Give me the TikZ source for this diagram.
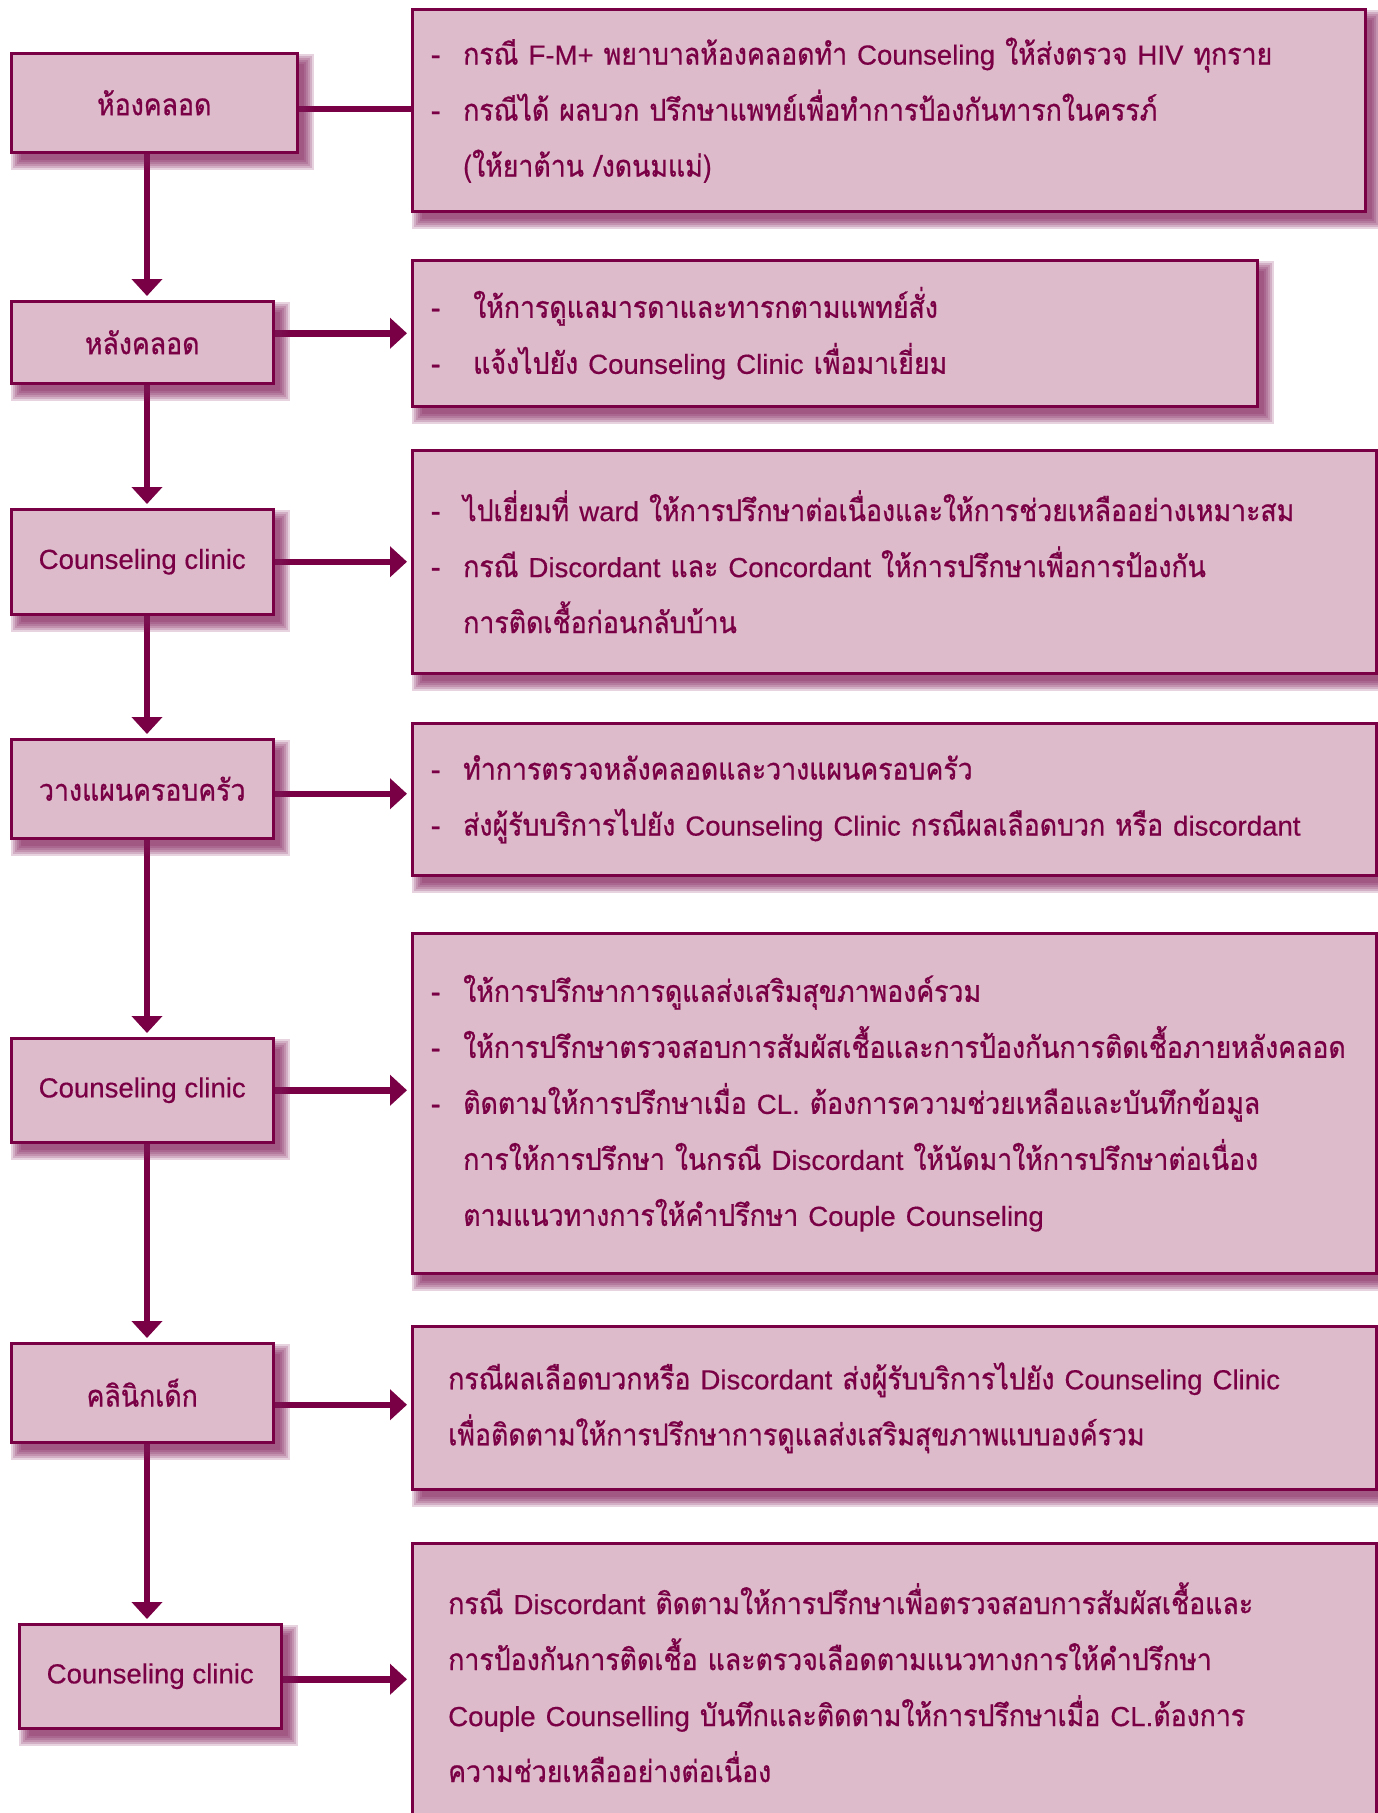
\documentclass[tikz,border=0pt]{standalone}
\usepackage{fontspec}
\setmainfont{Loma}[Script=Thai,FakeStretch=0.89,FakeBold=0.8]
\newfontfamily\latfont{Liberation Sans}[FakeBold=0.4]
\usetikzlibrary{arrows.meta}

\definecolor{plum}{RGB}{122,0,69}
\definecolor{petal}{RGB}{221,187,203}
\definecolor{dusk}{RGB}{125,25,85}

\pgfdeclarelayer{links}
\pgfdeclarelayer{shades}
\pgfsetlayers{links,shades,main}

% Latin words are set in a narrower grotesque
\newcommand\lat[1]{{\latfont\fontsize{27.6}{56}\selectfont #1}}
% bullet dash followed by a fixed gap, and the matching indent for continued lines
\newcommand\bul[1][32pt]{\makebox[#1][l]{-}}
\newcommand\cont{\hspace*{32pt}}

% soft drop shadow behind a box, built from stacked translucent rectangles
\newcommand\softshadow[1]{%
  \begin{pgfonlayer}{shades}
    \foreach \e in {7,5,3,1,-1,-3}{%
      \fill[dusk,opacity=0.19]
        ([shift={({8pt-(\e pt)},{-9pt-(\e pt)})}]#1.south west) rectangle
        ([shift={({8pt+(\e pt)},{-9pt+(\e pt)})}]#1.north east);
    }
  \end{pgfonlayer}}

\begin{document}
\begin{tikzpicture}[x=1pt,y=-1pt,
  txt/.style={text=plum,font=\fontsize{30}{56}\selectfont},
  lbox/.style={txt,draw=plum,line width=2.5pt,fill=petal,anchor=north west,inner sep=0pt},
  rbox/.style={lbox,align=left,inner xsep=19pt,inner ysep=0pt},
  link/.style={draw=plum,line width=6.5pt},
  flow/.style={link,-{Triangle[length=17pt,width=30pt]}},
]
\useasboundingbox (0,0) rectangle (1378,1813);

% stages on the left
\node[lbox,minimum width=286pt,minimum height=99pt] (L1) at (10,52) {ห้องคลอด};
\node[lbox,minimum width=262pt,minimum height=82pt] (L2) at (10,300) {หลังคลอด};
\node[lbox,minimum width=262pt,minimum height=105pt] (L3) at (10,508) {\lat{Counseling clinic}};
\node[lbox,minimum width=262pt,minimum height=99pt] (L4) at (10,738) {วางแผนครอบครัว};
\node[lbox,minimum width=262pt,minimum height=104pt] (L5) at (10,1037) {\lat{Counseling clinic}};
\node[lbox,minimum width=262pt,minimum height=99pt] (L6) at (10,1342) {คลินิกเด็ก};
\node[lbox,minimum width=262pt,minimum height=104pt] (L7) at (18,1623) {\lat{Counseling clinic}};

% actions on the right
\node[rbox,minimum width=953pt,minimum height=202pt,text width=915pt] (R1) at (411,8) {%
\mbox{\bul กรณี \lat{F-M+} พยาบาลห้องคลอดทำ \lat{Counseling} ให้ส่งตรวจ \lat{HIV} ทุกราย}\\
\mbox{\bul กรณีได้ ผลบวก ปรึกษาแพทย์เพื่อทำการป้องกันทารกในครรภ์}\\
\mbox{\cont(ให้ยาต้าน /งดนมแม่)}};

\node[rbox,minimum width=845pt,minimum height=146pt,text width=807pt] (R2) at (411,259) {%
\mbox{\bul[42pt]ให้การดูแลมารดาและทารกตามแพทย์สั่ง}\\
\mbox{\bul[42pt]แจ้งไปยัง \lat{Counseling Clinic} เพื่อมาเยี่ยม}};

\node[rbox,minimum width=964pt,minimum height=223pt,text width=926pt] (R3) at (411,449) {%
\mbox{\bul ไปเยี่ยมที่ \lat{ward} ให้การปรึกษาต่อเนื่องและให้การช่วยเหลืออย่างเหมาะสม}\\
\mbox{\bul กรณี \lat{Discordant} และ \lat{Concordant} ให้การปรึกษาเพื่อการป้องกัน}\\
\mbox{\cont การติดเชื้อก่อนกลับบ้าน}};

\node[rbox,minimum width=964pt,minimum height=152pt,text width=926pt] (R4) at (411,722) {%
\mbox{\bul ทำการตรวจหลังคลอดและวางแผนครอบครัว}\\
\mbox{\bul ส่งผู้รับบริการไปยัง \lat{Counseling Clinic} กรณีผลเลือดบวก หรือ \lat{discordant}}};

\node[rbox,minimum width=964pt,minimum height=340pt,text width=926pt] (R5) at (411,932) {%
\mbox{\bul ให้การปรึกษาการดูแลส่งเสริมสุขภาพองค์รวม}\\
\mbox{\bul ให้การปรึกษาตรวจสอบการสัมผัสเชื้อและการป้องกันการติดเชื้อภายหลังคลอด}\\
\mbox{\bul ติดตามให้การปรึกษาเมื่อ \lat{CL.} ต้องการความช่วยเหลือและบันทึกข้อมูล}\\
\mbox{\cont การให้การปรึกษา ในกรณี \lat{Discordant} ให้นัดมาให้การปรึกษาต่อเนื่อง}\\
\mbox{\cont ตามแนวทางการให้คำปรึกษา \lat{Couple Counseling}}};

\node[rbox,inner xsep=36pt,minimum width=964pt,minimum height=163pt,text width=892pt] (R6) at (411,1325) {%
\mbox{กรณีผลเลือดบวกหรือ \lat{Discordant} ส่งผู้รับบริการไปยัง \lat{Counseling Clinic}}\\
\mbox{เพื่อติดตามให้การปรึกษาการดูแลส่งเสริมสุขภาพแบบองค์รวม}};

\node[rbox,inner xsep=36pt,minimum width=964pt,minimum height=278pt,text width=892pt] (R7) at (411,1542) {%
\mbox{กรณี \lat{Discordant} ติดตามให้การปรึกษาเพื่อตรวจสอบการสัมผัสเชื้อและ}\\
\mbox{การป้องกันการติดเชื้อ และตรวจเลือดตามแนวทางการให้คำปรึกษา}\\
\mbox{\lat{Couple Counselling} บันทึกและติดตามให้การปรึกษาเมื่อ \lat{CL.}ต้องการ}\\
\mbox{ความช่วยเหลืออย่างต่อเนื่อง}};

% shadows
\foreach \b in {L1,L2,L3,L4,L5,L6,L7,R1,R2,R3,R4,R5,R6,R7}{\softshadow{\b}}

% connectors
\begin{pgfonlayer}{links}
  \fill[white] (0,0) rectangle (1378,1813);
  \coordinate (spine) at (147,0);
  \draw[flow,shorten >=4pt] (L1.south -| spine) -- (L2.north -| spine);
  \draw[flow,shorten >=4pt] (L2.south -| spine) -- (L3.north -| spine);
  \draw[flow,shorten >=4pt] (L3.south -| spine) -- (L4.north -| spine);
  \draw[flow,shorten >=4pt] (L4.south -| spine) -- (L5.north -| spine);
  \draw[flow,shorten >=4pt] (L5.south -| spine) -- (L6.north -| spine);
  \draw[flow,shorten >=4pt] (L6.south -| spine) -- (L7.north -| spine);
  \draw[link] ([yshift=-6pt]L1.east) -- ([yshift=-6pt]L1.east -| R1.west);
  \draw[flow,shorten >=4pt] ([yshift=9pt]L2.east) -- ([yshift=9pt]L2.east -| R2.west);
  \draw[flow,shorten >=4pt] (L3.east) -- (L3.east -| R3.west);
  \draw[flow,shorten >=4pt] ([yshift=-5pt]L4.east) -- ([yshift=-5pt]L4.east -| R4.west);
  \draw[flow,shorten >=4pt] (L5.east) -- (L5.east -| R5.west);
  \draw[flow,shorten >=4pt] ([yshift=-12pt]L6.east) -- ([yshift=-12pt]L6.east -| R6.west);
  \draw[flow,shorten >=4pt] ([yshift=-3pt]L7.east) -- ([yshift=-3pt]L7.east -| R7.west);
\end{pgfonlayer}
\end{tikzpicture}
\end{document}
